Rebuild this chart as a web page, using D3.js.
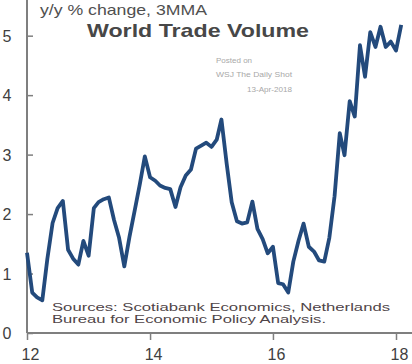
<!DOCTYPE html>
<html>
<head>
<meta charset="utf-8">
<script src="https://cdn.jsdelivr.net/npm/d3@7"></script>
<style>
  html, body { margin: 0; padding: 0; background: #fff; }
  svg { display: block; font-family: "Liberation Sans", Arial, sans-serif; }
</style>
</head>
<body>
<svg width="412" height="364"></svg>
<script>
// monthly values, Jan 2012 .. Feb 2018 (y/y % change, 3MMA)
var startMonth = new Date(2012, 0, 1);
var values = [
  1.35, 0.68, 0.60, 0.55, 1.25, 1.85, 2.10, 2.22, 1.40, 1.25, 1.15, 1.55,
  1.30, 2.10, 2.20, 2.25, 2.28, 1.90, 1.60, 1.12, 1.62, 2.05, 2.50, 2.97,
  2.62, 2.56, 2.48, 2.44, 2.42, 2.12, 2.45, 2.65, 2.75, 3.10, 3.15, 3.20,
  3.13, 3.25, 3.59, 2.85, 2.20, 1.88, 1.84, 1.86, 2.21, 1.75, 1.58, 1.34,
  1.45, 0.84, 0.82, 0.68, 1.20, 1.55, 1.84, 1.45, 1.37, 1.22, 1.20, 1.60,
  2.30, 3.36, 2.99, 3.90, 3.64, 4.84, 4.31, 5.06, 4.81, 5.15, 4.81, 4.90,
  4.75, 5.18
];
var yTicks = [0, 1, 2, 3, 4, 5];
var xTickYears = [2012, 2014, 2016, 2018];
var xTickLabels = ["12", "14", "16", "18"];

var svg = d3.select("svg");
var marge = { top: 0, left: 27, bottom: 333, right: 396 };

var months = d3.timeMonth.range(startMonth, d3.timeMonth.offset(startMonth, values.length));
var data = values.map(function (v, i) { return { date: months[i], value: v }; });

var x = d3.scaleTime()
    .domain([new Date(2012, 0, 1), new Date(2018, 0, 1)])
    .range([marge.left, marge.right]);
var y = d3.scaleLinear()
    .domain([0, 5.6])
    .range([marge.bottom, marge.top]);

var axisColor = "#7f7f7f";
var textColor = "#404040";

// y axis
var yAxis = svg.append("g")
    .attr("transform", "translate(" + marge.left + ",0)")
    .call(d3.axisRight(y).tickValues(yTicks).tickSize(6).tickFormat(""));
yAxis.select(".domain").attr("stroke", axisColor).attr("stroke-width", 2)
    .attr("d", "M0," + y(0) + "V0");
yAxis.selectAll(".tick line").attr("stroke", axisColor).attr("stroke-width", 1.5);

svg.append("g").selectAll("text")
    .data(yTicks)
    .enter().append("text")
    .attr("x", 7)
    .attr("y", function (d) { return y(d) + 6; })
    .attr("text-anchor", "middle")
    .attr("fill", textColor)
    .style("font-size", "16px")
    .text(function (d) { return d; });

// x axis
var xAxis = svg.append("g")
    .attr("transform", "translate(0," + marge.bottom + ")")
    .call(d3.axisBottom(x)
        .tickValues(xTickYears.map(function (yr) { return new Date(yr, 0, 1); }))
        .tickSize(7).tickFormat(""));
xAxis.select(".domain").attr("stroke", axisColor).attr("stroke-width", 2)
    .attr("d", "M" + marge.left + ",0H412");
xAxis.selectAll(".tick line").attr("stroke", axisColor).attr("stroke-width", 1.5);

svg.append("g").selectAll("text")
    .data(xTickYears)
    .enter().append("text")
    .attr("x", function (d) { return x(new Date(d, 0, 1)) + 3.5; })
    .attr("y", 360)
    .attr("text-anchor", "middle")
    .attr("fill", textColor)
    .style("font-size", "16px")
    .text(function (d, i) { return xTickLabels[i]; });

// the line
var line = d3.line()
    .x(function (d) { return x(d.date); })
    .y(function (d) { return y(d.value); });

svg.append("path")
    .datum(data)
    .attr("fill", "none")
    .attr("stroke", "#234a7c")
    .attr("stroke-width", 3.8)
    .attr("stroke-linejoin", "round")
    .attr("d", line);

// titles
svg.append("text")
    .attr("x", 40).attr("y", 15)
    .attr("fill", "#505050")
    .attr("textLength", 167).attr("lengthAdjust", "spacingAndGlyphs")
    .style("font-size", "15px")
    .text("y/y % change, 3MMA");

svg.append("text")
    .attr("x", 87).attr("y", 37)
    .attr("fill", "#474747")
    .attr("textLength", 222).attr("lengthAdjust", "spacingAndGlyphs")
    .style("font-size", "19px").style("font-weight", "bold")
    .text("World Trade Volume");

// watermark
var wm = svg.append("g").attr("fill", "#a8a8a8").style("font-size", "8px");
wm.append("text").attr("x", 216).attr("y", 63).text("Posted on");
wm.append("text").attr("x", 216).attr("y", 77)
    .attr("textLength", 76).attr("lengthAdjust", "spacingAndGlyphs").text("WSJ The Daily Shot");
wm.append("text").attr("x", 247).attr("y", 92)
    .attr("textLength", 45).attr("lengthAdjust", "spacingAndGlyphs").text("13-Apr-2018");

// sources
var src = svg.append("g").attr("fill", "#4f4548").style("font-size", "10.5px");
src.append("text").attr("x", 52).attr("y", 310.8)
    .attr("textLength", 338).attr("lengthAdjust", "spacingAndGlyphs")
    .text("Sources: Scotiabank Economics, Netherlands");
src.append("text").attr("x", 52).attr("y", 323.3)
    .attr("textLength", 274).attr("lengthAdjust", "spacingAndGlyphs")
    .text("Bureau for Economic Policy Analysis.");
</script>
</body>
</html>
